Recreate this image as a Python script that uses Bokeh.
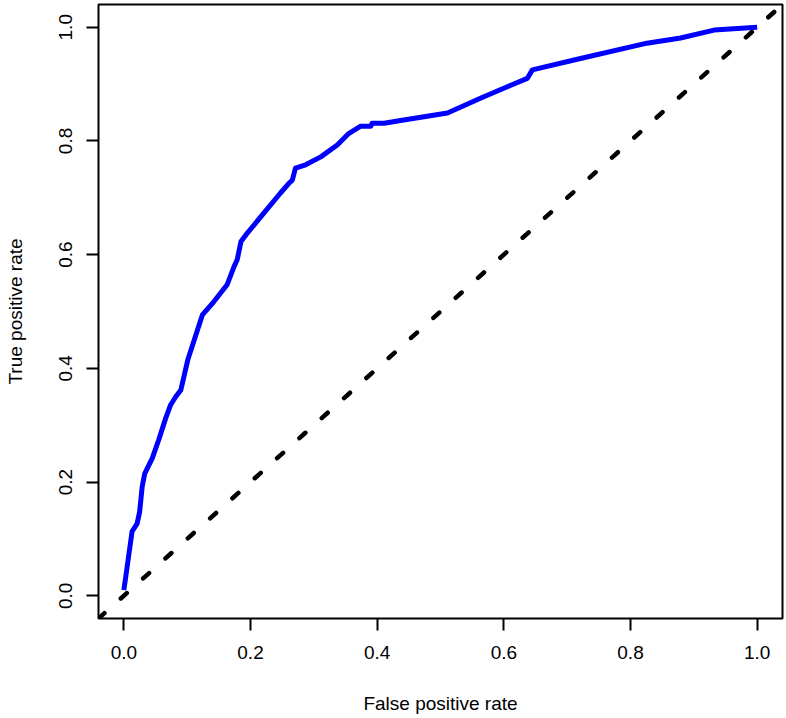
from bokeh.plotting import figure
from bokeh.models import FixedTicker, Range1d, NumeralTickFormatter
from bokeh.embed import file_html
from bokeh.resources import INLINE

# ROC curve
fpr = [0.0, 0.003, 0.013, 0.021, 0.025, 0.029, 0.033, 0.045, 0.055, 0.066, 0.074,
       0.082, 0.090, 0.101, 0.124, 0.142, 0.163, 0.174, 0.179, 0.185, 0.195, 0.221,
       0.247, 0.261, 0.266, 0.271, 0.287, 0.311, 0.337, 0.355, 0.374, 0.390, 0.392,
       0.411, 0.437, 0.511, 0.563, 0.611, 0.637, 0.645, 0.721, 0.826, 0.879, 0.932,
       1.0]
tpr = [0.01, 0.033, 0.113, 0.127, 0.148, 0.192, 0.215, 0.242, 0.274, 0.312, 0.336,
       0.350, 0.362, 0.415, 0.494, 0.517, 0.547, 0.579, 0.591, 0.623, 0.638, 0.673,
       0.708, 0.726, 0.731, 0.752, 0.758, 0.772, 0.793, 0.813, 0.826, 0.826, 0.831,
       0.831, 0.836, 0.849, 0.875, 0.898, 0.910, 0.925, 0.945, 0.972, 0.981, 0.995,
       1.0]
diag = [-0.04, 1.04]
ticks = [0.0, 0.2, 0.4, 0.6, 0.8, 1.0]

FONT = "Liberation Sans"

p = figure(width=784, height=718, output_backend="svg", toolbar_location=None,
           x_range=Range1d(-0.04, 1.04), y_range=Range1d(-0.04, 1.04),
           min_border_left=98, min_border_right=2, min_border_top=4, min_border_bottom=100,
           x_axis_label="False positive rate", y_axis_label="True positive rate")

p.grid.visible = False
p.background_fill_color = "white"
p.border_fill_color = "white"
p.outline_line_color = "black"
p.outline_line_width = 2
p.outline_line_alpha = 1

p.line(diag, diag, line_color="black", line_width=4.5, line_dash="8 22",
       line_cap="round")
p.line(fpr, tpr, line_color="#0000ff", line_width=5, line_join="round")

for ax in (p.xaxis[0], p.yaxis[0]):
    ax.ticker = FixedTicker(ticks=ticks)
    ax.formatter = NumeralTickFormatter(format="0.0")
    ax.axis_line_color = None
    ax.major_tick_in = 0
    ax.major_tick_out = 12
    ax.major_tick_line_width = 2
    ax.major_tick_line_color = "black"
    ax.minor_tick_line_color = None
    ax.major_label_text_font = FONT
    ax.major_label_text_font_size = "19px"
    ax.major_label_text_color = "#000000"
    ax.axis_label_text_font = FONT
    ax.axis_label_text_font_size = "19px"
    ax.axis_label_text_font_style = "normal"
    ax.axis_label_text_color = "#000000"

p.xaxis[0].major_label_standoff = 15
p.xaxis[0].axis_label_standoff = 31
p.yaxis[0].major_label_orientation = "vertical"
p.yaxis[0].major_label_standoff = 14
p.yaxis[0].axis_label_standoff = 31

open("out.html", "w").write(file_html(p, INLINE))
